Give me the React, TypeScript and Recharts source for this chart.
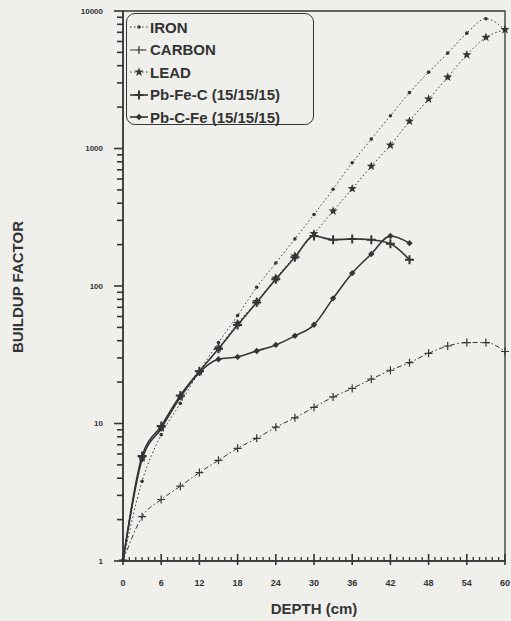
import { Legend, Line, LineChart, ReferenceArea, XAxis, YAxis } from "recharts";

// depth in cm, readings every 3 cm
const DEPTH = [0, 3, 6, 9, 12, 15, 18, 21, 24, 27, 30, 33, 36, 39, 42, 45, 48, 51, 54, 57, 60];

const IRON = [1, 3.8, 8.3, 14, 24, 38.8, 61, 98, 147, 220, 331, 505, 787, 1170, 1730, 2550, 3590, 4940, 6900, 8790, 7300];
const CARBON = [1, 2.1, 2.8, 3.5, 4.4, 5.4, 6.6, 7.8, 9.4, 11, 13.1, 15.6, 18, 21, 24.4, 27.7, 32.4, 36.6, 38.8, 38.8, 33.4];
const LEAD = [1, 5.6, 9.3, 15.7, 23.7, 35.3, 53.4, 77, 114, 165, 240, 351, 510, 743, 1057, 1580, 2290, 3300, 4800, 6430, 7310];
const PB_FE_C = [1, 5.8, 9.6, 16, 24, 35, 52, 76, 112, 162, 231, 217, 220, 217, 203, 155];
const PB_C_FE = [1, 5.5, 9.2, 15.5, 23.5, 29.3, 30.5, 33.7, 37.3, 43.4, 52.2, 81.3, 124, 171, 231, 205];

const X_LABELS = [0, 6, 12, 18, 24, 30, 36, 42, 48, 54, 60];
const Y_LABELS = [1, 10, 100, 1000, 10000];

const INK = "#353535";
const BG = "#efefec";
const FONT = '"Liberation Sans", Arial, sans-serif';

type MarkerKind = "dot" | "plus" | "star" | "cross" | "diamond";

const SERIES: {
  key: string;
  name: string;
  values: number[];
  dash?: string;
  width: number;
  marker: MarkerKind;
}[] = [
  { key: "iron", name: "IRON", values: IRON, dash: "1.5 2.5", width: 1, marker: "dot" },
  { key: "carbon", name: "CARBON", values: CARBON, dash: "5 2.5 1.5 2.5", width: 1, marker: "plus" },
  { key: "lead", name: "LEAD", values: LEAD, dash: "1.5 2.5", width: 1, marker: "star" },
  { key: "pbfec", name: "Pb-Fe-C (15/15/15)", values: PB_FE_C, width: 1.6, marker: "cross" },
  { key: "pbcfe", name: "Pb-C-Fe (15/15/15)", values: PB_C_FE, width: 1.6, marker: "diamond" },
];

const rows = DEPTH.map((d, i) => {
  const row: Record<string, number | null> = { depth: d };
  for (const s of SERIES) row[s.key] = s.values[i] ?? null;
  return row;
});

// log decades get 1..9 ticks, only the powers of ten are labelled
const yTicks: number[] = [];
for (let k = 0; k < 4; k++) {
  for (let m = 1; m < 10; m++) yTicks.push(m * Math.pow(10, k));
}
yTicks.push(10000);

const xTicks: number[] = [];
for (let i = 0; i <= 60; i++) xTicks.push(i);

function starPoints(cx: number, cy: number, ro: number, ri: number): string {
  const pts: string[] = [];
  for (let i = 0; i < 10; i++) {
    const r = i % 2 === 0 ? ro : ri;
    const a = -Math.PI / 2 + (i * Math.PI) / 5;
    pts.push(`${cx + r * Math.cos(a)},${cy + r * Math.sin(a)}`);
  }
  return pts.join(" ");
}

function Marker({ kind, cx, cy }: { kind: MarkerKind; cx?: number | null; cy?: number | null }) {
  if (cx == null || cy == null || !Number.isFinite(cx) || !Number.isFinite(cy)) return null;
  switch (kind) {
    case "dot":
      return <circle cx={cx} cy={cy} r={1.8} fill={INK} />;
    case "plus":
      return (
        <path d={`M${cx - 4},${cy}H${cx + 4}M${cx},${cy - 4}V${cy + 4}`} stroke={INK} strokeWidth={1.2} />
      );
    case "star":
      return <polygon points={starPoints(cx, cy, 4.8, 2)} fill={INK} />;
    case "cross":
      return (
        <path d={`M${cx - 4.5},${cy}H${cx + 4.5}M${cx},${cy - 4.5}V${cy + 4.5}`} stroke={INK} strokeWidth={2} />
      );
    case "diamond":
      return <path d={`M${cx},${cy - 3.2}L${cx + 3.2},${cy}L${cx},${cy + 3.2}L${cx - 3.2},${cy}Z`} fill={INK} />;
  }
  return null;
}

function YTick(props: any) {
  const { x, y, payload } = props;
  const v = payload.value as number;
  const major = Y_LABELS.includes(v);
  const len = major ? 9 : 6;
  return (
    <g>
      <path d={`M${x},${y}H${x - len}`} stroke={INK} strokeWidth={1.6} fill="none" />
      {major && (
        <text
          x={x - 20}
          y={y}
          textAnchor="end"
          dominantBaseline="central"
          fontFamily={FONT}
          fontSize={8}
          fontWeight="bold"
          fill={INK}
          stroke="none"
        >
          {v}
        </text>
      )}
    </g>
  );
}

function XTick(props: any) {
  const { x, y, payload } = props;
  const v = payload.value as number;
  const major = X_LABELS.includes(v);
  return (
    <g>
      <path
        d={major ? `M${x},${y - 7}V${y + 4}` : `M${x},${y}V${y - 4}`}
        stroke={INK}
        strokeWidth={major ? 1.6 : 1.3}
        fill="none"
      />
      {major && (
        <text
          x={x}
          y={y + 22}
          textAnchor="middle"
          dominantBaseline="central"
          fontFamily={FONT}
          fontSize={9}
          fontWeight="bold"
          fill={INK}
          stroke="none"
        >
          {v}
        </text>
      )}
    </g>
  );
}

function LegendBox() {
  return (
    <div
      style={{
        width: 186,
        height: 108,
        border: `1.5px solid ${INK}`,
        borderRadius: 9,
        background: BG,
        paddingTop: 2,
        fontFamily: FONT,
        fontSize: 15,
        fontWeight: "bold",
        color: "#333",
        boxSizing: "content-box",
      }}
    >
      {SERIES.map((s) => (
        <div key={s.key} style={{ display: "flex", alignItems: "center", height: 22.5 }}>
          <svg width={22} height={12} style={{ marginLeft: 1, flex: "none" }}>
            <line x1={2} x2={20} y1={6} y2={6} stroke={INK} strokeWidth={s.width} strokeDasharray={s.dash} />
            <Marker kind={s.marker} cx={11} cy={6} />
          </svg>
          <span style={{ whiteSpace: "nowrap" }}>{s.name}</span>
        </div>
      ))}
    </div>
  );
}

export default function App() {
  return (
    <div style={{ position: "relative", width: 511, height: 621, background: BG, overflow: "hidden" }}>
      <style>{"body{margin:0}"}</style>
      <LineChart width={511} height={621} data={rows} margin={{ top: 11, right: 6, bottom: 0, left: 0 }}>
        <XAxis
          dataKey="depth"
          type="number"
          domain={[0, 60]}
          ticks={xTicks}
          interval={0}
          tickSize={0}
          tickMargin={0}
          tickLine={false}
          tick={<XTick />}
          height={60}
          axisLine={{ stroke: INK, strokeWidth: 1.5 }}
        />
        <YAxis
          type="number"
          scale="log"
          domain={[1, 10000]}
          allowDataOverflow
          ticks={yTicks}
          interval={0}
          tickSize={0}
          tickMargin={0}
          tickLine={false}
          tick={<YTick />}
          width={123}
          axisLine={{ stroke: INK, strokeWidth: 1.5 }}
        />
        <ReferenceArea x1={0} x2={60} y1={1} y2={10000} fill="none" stroke={INK} strokeWidth={1.3} ifOverflow="visible" />
        {SERIES.map((s) => (
          <Line
            key={s.key}
            dataKey={s.key}
            name={s.name}
            type="monotone"
            stroke={INK}
            strokeWidth={s.width}
            strokeDasharray={s.dash}
            connectNulls={false}
            isAnimationActive={false}
            dot={(p: any) => <Marker key={`${s.key}-${p.index}`} kind={s.marker} cx={p.cx} cy={p.cy} />}
            activeDot={false}
          />
        ))}
        <Legend
          layout="vertical"
          align="center"
          verticalAlign="middle"
          content={() => <LegendBox />}
          wrapperStyle={{ position: "absolute", top: 13, left: 126, width: "auto", height: "auto" }}
        />
      </LineChart>
      <div
        style={{
          position: "absolute",
          left: 0,
          top: 601,
          width: 628,
          textAlign: "center",
          fontFamily: FONT,
          fontSize: 15,
          fontWeight: "bold",
          color: INK,
          lineHeight: "16px",
        }}
      >
        DEPTH (cm)
      </div>
      <div
        style={{
          position: "absolute",
          left: 17,
          top: 287,
          transform: "translate(-50%, -50%) rotate(-90deg)",
          whiteSpace: "nowrap",
          fontFamily: FONT,
          fontSize: 15,
          fontWeight: "bold",
          color: INK,
        }}
      >
        BUILDUP FACTOR
      </div>
    </div>
  );
}
